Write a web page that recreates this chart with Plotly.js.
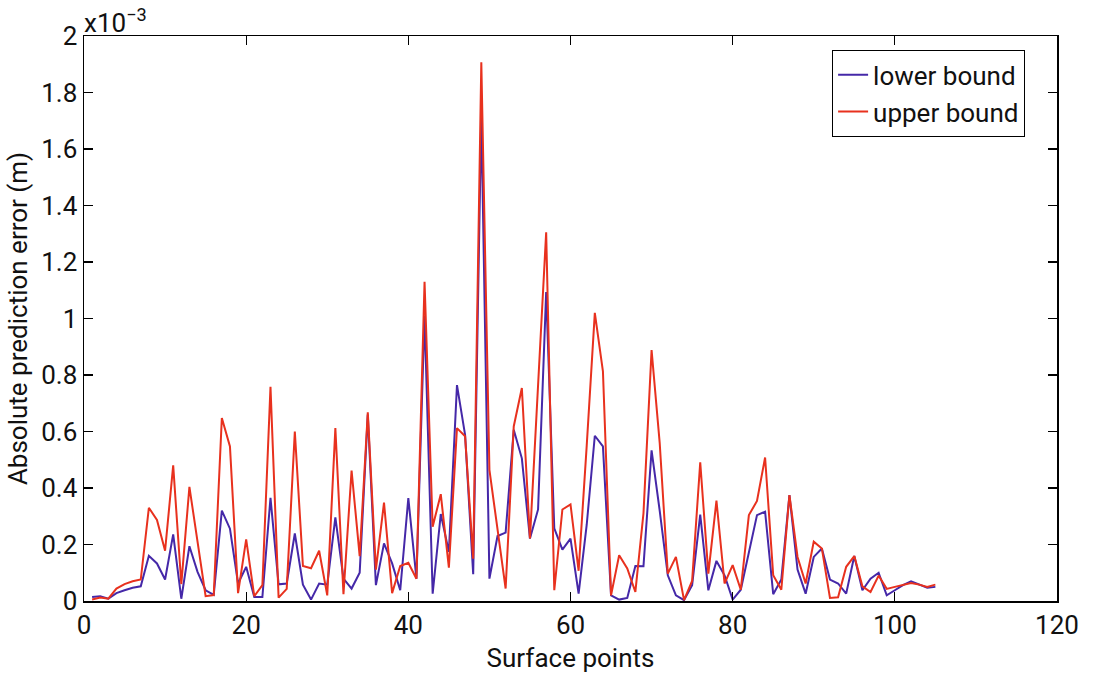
<!DOCTYPE html>
<html>
<head>
<meta charset="utf-8">
<script src="https://cdn.plot.ly/plotly-3.0.1.min.js"></script>
<style>html,body{margin:0;padding:0;background:#fff;}#chart{width:1094px;height:682px;}</style>
</head>
<body>
<div id="chart"></div>
<script>
// Surface point index 1..105
var points = [];
for (var i = 1; i <= 105; i++) points.push(i);

// Absolute prediction error, in units of 1e-3 m
var lowerBound = [
  0.014, 0.017, 0.008, 0.028, 0.038, 0.047, 0.052, 0.160, 0.133, 0.076,
  0.236, 0.008, 0.194, 0.103, 0.038, 0.022, 0.320, 0.256, 0.062, 0.121,
  0.014, 0.014, 0.365, 0.059, 0.062, 0.239, 0.058, 0.005, 0.062, 0.058,
  0.296, 0.079, 0.044, 0.100, 0.660, 0.056, 0.204, 0.133, 0.038, 0.364,
  0.079, 1.010, 0.026, 0.308, 0.174, 0.764, 0.588, 0.095, 1.720, 0.079,
  0.230, 0.242, 0.606, 0.505, 0.221, 0.324, 1.094, 0.257, 0.182, 0.221,
  0.026, 0.270, 0.585, 0.547, 0.020, 0.005, 0.011, 0.124, 0.123, 0.533,
  0.320, 0.091, 0.020, 0.003, 0.056, 0.306, 0.038, 0.142, 0.091, 0.005,
  0.040, 0.172, 0.304, 0.316, 0.024, 0.076, 0.375, 0.111, 0.026, 0.156,
  0.186, 0.076, 0.062, 0.026, 0.159, 0.038, 0.079, 0.100, 0.020, 0.038,
  0.056, 0.070, 0.059, 0.047, 0.050
];
var upperBound = [
  0.005, 0.012, 0.008, 0.044, 0.060, 0.070, 0.076, 0.330, 0.287, 0.178,
  0.480, 0.060, 0.404, 0.215, 0.017, 0.021, 0.648, 0.547, 0.028, 0.218,
  0.017, 0.056, 0.758, 0.012, 0.043, 0.600, 0.124, 0.116, 0.178, 0.020,
  0.612, 0.024, 0.462, 0.159, 0.668, 0.111, 0.348, 0.028, 0.124, 0.135,
  0.079, 1.130, 0.263, 0.378, 0.118, 0.612, 0.583, 0.150, 1.907, 0.464,
  0.250, 0.044, 0.618, 0.754, 0.221, 0.760, 1.305, 0.038, 0.324, 0.342,
  0.107, 0.550, 1.020, 0.813, 0.020, 0.162, 0.115, 0.032, 0.310, 0.888,
  0.560, 0.097, 0.156, 0.003, 0.071, 0.491, 0.097, 0.355, 0.062, 0.127,
  0.040, 0.304, 0.354, 0.508, 0.091, 0.040, 0.375, 0.156, 0.062, 0.210,
  0.186, 0.011, 0.013, 0.121, 0.159, 0.052, 0.032, 0.090, 0.043, 0.050,
  0.056, 0.064, 0.058, 0.050, 0.058
];

var seriesNames = ['lower bound', 'upper bound'];
var xTicks = [0, 20, 40, 60, 80, 100, 120];
var yTicks = [0, 0.2, 0.4, 0.6, 0.8, 1, 1.2, 1.4, 1.6, 1.8, 2];

var FONT = 'Roboto, "Noto Sans", "DejaVu Sans", sans-serif';
var FS = 26;

var traces = [
  {x: points, y: lowerBound, name: seriesNames[0], type: 'scatter', mode: 'lines',
   line: {color: '#4528a8', width: 2}},
  {x: points, y: upperBound, name: seriesNames[1], type: 'scatter', mode: 'lines',
   line: {color: '#e8311e', width: 2}}
];

var axisCommon = {
  showline: true, linecolor: '#000', linewidth: 1.5, mirror: 'ticks',
  ticks: 'inside', ticklen: 9, tickwidth: 1.2, tickcolor: '#000',
  showgrid: false, zeroline: false,
  tickfont: {family: FONT, size: FS, color: '#111'}
};

var layout = {
  width: 1094, height: 682,
  margin: {l: 84, r: 37, t: 36, b: 81},
  paper_bgcolor: '#fff', plot_bgcolor: '#fff',
  showlegend: true,
  xaxis: Object.assign({}, axisCommon, {
    range: [0, 120], tickvals: xTicks, ticktext: xTicks.map(String),
    title: {text: 'Surface points', font: {family: FONT, size: FS, color: '#111'}, standoff: 10}
  }),
  yaxis: Object.assign({}, axisCommon, {
    range: [0, 2], tickvals: yTicks, ticktext: yTicks.map(String),
    title: {text: 'Absolute prediction error (m)', font: {family: FONT, size: FS, color: '#111'}, standoff: 6}
  }),
  legend: {
    x: 0.967, xanchor: 'right', y: 0.975, yanchor: 'top',
    bgcolor: '#fff', bordercolor: '#000', borderwidth: 1.2,
    font: {family: FONT, size: FS, color: '#111'},
    itemwidth: 30, tracegroupgap: 0
  },
  annotations: [{
    xref: 'paper', yref: 'paper', x: 0, y: 1, xanchor: 'left', yanchor: 'bottom',
    xshift: -2, yshift: -4,
    text: 'x10<sup>−3</sup>', showarrow: false,
    font: {family: FONT, size: FS, color: '#111'}
  }]
};

Plotly.newPlot('chart', traces, layout, {displayModeBar: false, staticPlot: true});
</script>
</body>
</html>
